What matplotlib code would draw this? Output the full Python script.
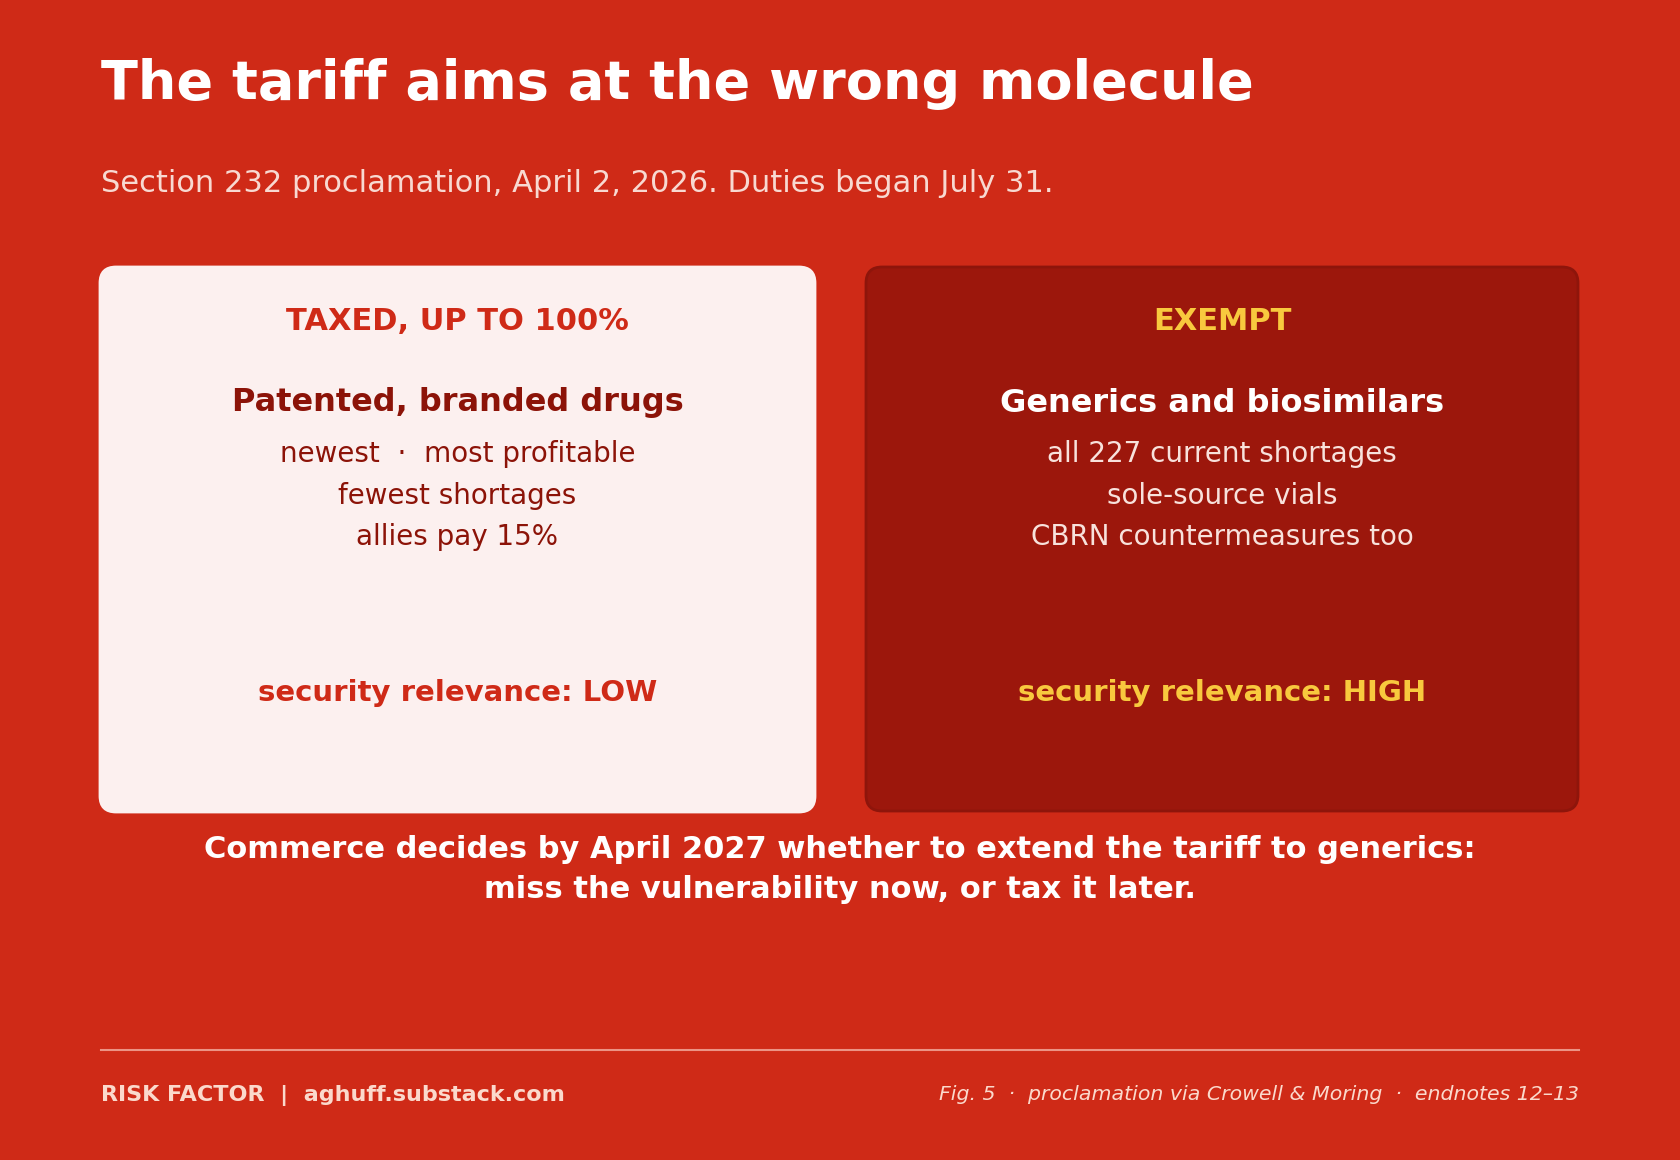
import matplotlib
matplotlib.use("Agg")
import matplotlib.pyplot as plt
from matplotlib.patches import FancyBboxPatch

# --- content ---
title = "The tariff aims at the wrong molecule"
subtitle = "Section 232 proclamation, April 2, 2026. Duties began July 31."

card_tags = ["TAXED, UP TO 100%", "EXEMPT"]
card_heads = ["Patented, branded drugs", "Generics and biosimilars"]
card_lines = [
    ["newest  \u00b7  most profitable", "fewest shortages", "allies pay 15%"],
    ["all 227 current shortages", "sole-source vials", "CBRN countermeasures too"],
]
card_ratings = ["security relevance: LOW", "security relevance: HIGH"]

conclusion = [
    "Commerce decides by April 2027 whether to extend the tariff to generics:",
    "miss the vulnerability now, or tax it later.",
]
footer_left = "RISK FACTOR  |  aghuff.substack.com"
footer_right = "Fig. 5  \u00b7  proclamation via Crowell & Moring  \u00b7  endnotes 12\u201313"

# --- colours ---
BG = "#cf2a17"
card_fill = ["#fcf0ef", "#9c170c"]
card_edge = ["#fcf0ef", "#8e150b"]
tag_col = ["#cf2a17", "#f8c93e"]
head_col = ["#8c1308", "#ffffff"]
line_col = ["#8c1308", "#f8e2dc"]
rate_col = ["#cf2a17", "#f8c93e"]

W, H = 1680, 1160
fig = plt.figure(figsize=(W / 100, H / 100), dpi=100, facecolor=BG)
ax = fig.add_axes([0, 0, 1, 1])
ax.set_xlim(0, W)
ax.set_ylim(H, 0)
ax.axis("off")
ax.set_facecolor(BG)

plt.rcParams["font.family"] = ["DejaVu Sans"]

ax.text(101, 99, title, fontsize=39, fontweight="bold", color="white",
        ha="left", va="baseline")
ax.text(101, 183, subtitle, fontsize=22, color="#f8d9d1", ha="left", va="center")

boxes = [(100, 267, 715, 545), (866, 267, 712, 544)]
for i, (x0, y0, bw, bh) in enumerate(boxes):
    ax.add_patch(FancyBboxPatch((x0, y0), bw, bh,
                                boxstyle="round,pad=0,rounding_size=16",
                                facecolor=card_fill[i], edgecolor=card_edge[i],
                                linewidth=2))
    cx = x0 + bw / 2
    ax.text(cx, 322, card_tags[i], fontsize=22, fontweight="bold",
            color=tag_col[i], ha="center", va="center")
    ax.text(cx, 403, card_heads[i], fontsize=23, fontweight="bold",
            color=head_col[i], ha="center", va="center")
    for j, line in enumerate(card_lines[i]):
        ax.text(cx, 454 + j * 41.5, line, fontsize=20, color=line_col[i],
                ha="center", va="center")
    ax.text(cx, 693, card_ratings[i], fontsize=21, fontweight="bold",
            color=rate_col[i], ha="center", va="center")

for j, line in enumerate(conclusion):
    ax.text(W / 2, 849 + j * 41, line, fontsize=22, fontweight="bold",
            color="white", ha="center", va="center")

ax.plot([101, 1579], [1050, 1050], color="#ec9486", linewidth=1.5)
ax.text(101, 1095, footer_left, fontsize=16, fontweight="bold",
        color="#fbd9cc", ha="left", va="center")
ax.text(1579, 1095, footer_right, fontsize=14.75, style="italic",
        color="#fbd9cc", ha="right", va="center")

fig.savefig("out.png", dpi=100, facecolor=BG)
